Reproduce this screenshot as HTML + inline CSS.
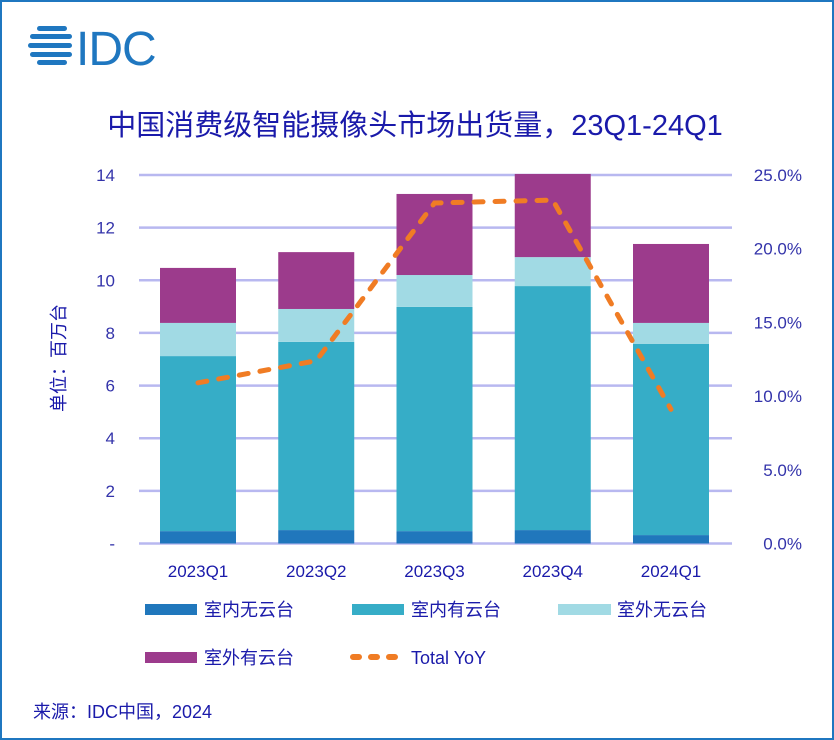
<!DOCTYPE html>
<html><head><meta charset="utf-8">
<style>
body{margin:0;background:#fff;}
#wrap{position:relative;width:834px;height:740px;box-sizing:border-box;border:2px solid #1f77c0;overflow:hidden;font-family:"Liberation Sans","Noto Sans CJK SC",sans-serif;}
svg text{font-family:"Liberation Sans","Noto Sans CJK SC",sans-serif;}
</style></head>
<body>
<div id="wrap">
<svg id="chart" width="830" height="736" viewBox="2 2 830 736" xmlns="http://www.w3.org/2000/svg">
<g>
<g fill="#1f77c0">
<rect x="37" y="26" width="30" height="5" rx="2.5"/>
<rect x="30" y="34" width="42" height="5" rx="2.5"/>
<rect x="28" y="43" width="44" height="5" rx="2.5"/>
<rect x="30" y="52" width="42" height="5" rx="2.5"/>
<rect x="37" y="60" width="30" height="5" rx="2.5"/>
</g>
<text x="76" y="65" font-size="48" fill="#1f77c0" font-weight="400" letter-spacing="-1">IDC</text>
</g>
<text x="415" y="135" text-anchor="middle" font-size="29" fill="#1a1aaa">中国消费级智能摄像头市场出货量，23Q1-24Q1</text>
<g id="grid"></g>
<g id="bars"></g>
<g id="line"></g>
<g id="axes"></g>
<text transform="translate(65,358) rotate(-90)" text-anchor="middle" font-size="18" fill="#1a1aaa">单位：百万台</text>
<g font-size="18" fill="#1a1aaa">
<g><rect x="145" y="604" width="52" height="11" fill="#2077bc"/><text x="204" y="616">室内无云台</text></g>
<g><rect x="352" y="604" width="52" height="11" fill="#36adc7"/><text x="411" y="616">室内有云台</text></g>
<g><rect x="558" y="604" width="53" height="11" fill="#a1dae4"/><text x="617" y="616">室外无云台</text></g>
<g><rect x="145" y="652" width="52" height="11" fill="#9c3b8c"/><text x="204" y="664">室外有云台</text></g>
<g><line x1="353" y1="657" x2="400" y2="657" stroke="#f07c24" stroke-width="6" stroke-linecap="round" stroke-dasharray="6,12"/><text x="411" y="664">Total YoY</text></g>
</g>
<text x="33" y="718" font-size="18" fill="#1a1aaa">来源：IDC中国，2024</text>
</svg>
</div>
<script>
const categories=["2023Q1","2023Q2","2023Q3","2023Q4","2024Q1"];
const indoorNoCloud=[0.47,0.51,0.47,0.51,0.32];
const indoorCloud=[6.65,7.15,8.52,9.27,7.26];
const outdoorNoCloud=[1.26,1.25,1.21,1.10,0.80];
const outdoorCloud=[2.09,2.16,3.08,3.16,3.00];
const yoy=[10.9,12.4,23.1,23.3,9.1];
const leftTicks=["-","2","4","6","8","10","12","14"];
const rightTicks=["0.0%","5.0%","10.0%","15.0%","20.0%","25.0%"];

const NS="http://www.w3.org/2000/svg";
const y0=543.5,yTop=175,leftMax=14,rightMax=25;
const yL=v=>y0-(y0-yTop)*v/leftMax;
const yR=v=>y0-(y0-yTop)*v/rightMax;
const xC=i=>198+i*118.25;
const bw=76;
function mk(tag,attrs,parent){const e=document.createElementNS(NS,tag);for(const k in attrs)e.setAttribute(k,attrs[k]);parent.appendChild(e);return e;}
const grid=document.getElementById('grid'),bars=document.getElementById('bars'),line=document.getElementById('line'),axes=document.getElementById('axes');
for(let i=0;i<leftTicks.length;i++){
  const y=yL(i*2);
  const g=mk('line',{x1:139,x2:732,y1:y,y2:y,stroke:'#b8b8f0','stroke-width':2.5},grid);
  
  
  const t=mk('text',{x:115,y:y+6,'text-anchor':'end','font-size':17,fill:'#3333aa'},axes);
  t.textContent=leftTicks[i];
  
  
}
for(let i=0;i<rightTicks.length;i++){
  const y=yR(i*5);
  const t=mk('text',{x:802,y:y+6,'text-anchor':'end','font-size':17,fill:'#3333aa'},axes);
  t.textContent=rightTicks[i];
  
  
}
const series=[[indoorNoCloud,'#2077bc','indoor-no-cloud'],[indoorCloud,'#36adc7','indoor-cloud'],[outdoorNoCloud,'#a1dae4','outdoor-no-cloud'],[outdoorCloud,'#9c3b8c','outdoor-cloud']];
categories.forEach((c,i)=>{
  let base=0;
  series.forEach(([arr,col,nm])=>{
    const top=base+arr[i];
    const r=mk('rect',{x:xC(i)-bw/2,y:yL(top),width:bw,height:yL(base)-yL(top),fill:col},bars);
    
    
    base=top;
  });
  const t=mk('text',{x:xC(i),y:577,'text-anchor':'middle','font-size':17,fill:'#1a1aaa'},axes);
  t.textContent=c;
  
  
});
const pts=yoy.map((v,i)=>xC(i)+','+yR(v)).join(' ');
const pl=mk('polyline',{points:pts,fill:'none',stroke:'#f07c24','stroke-width':5,'stroke-linecap':'round','stroke-dasharray':'9,12'},line);


</script>
</body></html>
